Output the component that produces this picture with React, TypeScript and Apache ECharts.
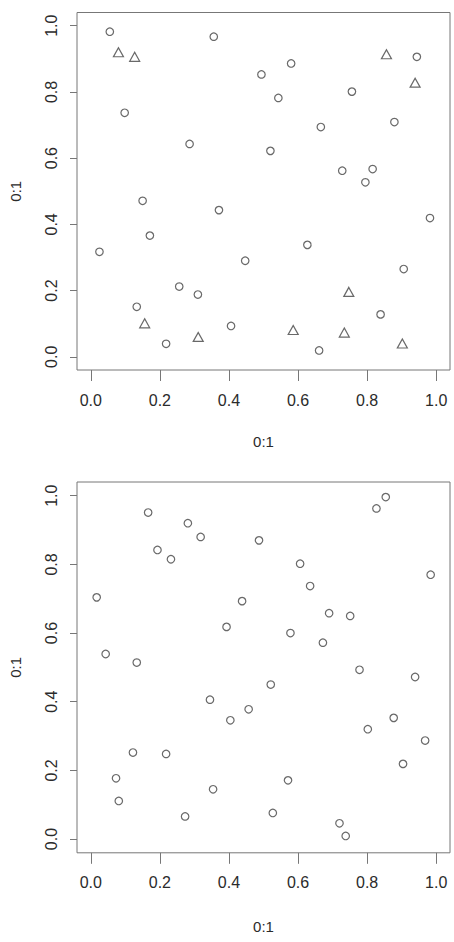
import React, { useEffect, useRef } from "react";
import * as echarts from "echarts";

const tickValues = [0, 0.2, 0.4, 0.6, 0.8, 1.0];
const axisTitle = "0:1";

// Top plot: circles
const topCircleX = [0.055, 0.356, 0.098, 0.286, 0.494, 0.543, 0.580, 0.520, 0.666, 0.756, 0.944, 0.879, 0.728, 0.816, 0.795, 0.150, 0.371, 0.982, 0.025, 0.171, 0.627, 0.447, 0.906, 0.256, 0.310, 0.133, 0.218, 0.406, 0.661, 0.839];
const topCircleY = [0.982, 0.967, 0.737, 0.643, 0.853, 0.782, 0.886, 0.622, 0.694, 0.801, 0.906, 0.709, 0.562, 0.567, 0.527, 0.471, 0.443, 0.419, 0.317, 0.366, 0.338, 0.290, 0.265, 0.212, 0.188, 0.151, 0.039, 0.093, 0.019, 0.128];
// Top plot: triangles
const topTriangleX = [0.080, 0.127, 0.856, 0.939, 0.156, 0.311, 0.586, 0.747, 0.734, 0.902];
const topTriangleY = [0.920, 0.906, 0.914, 0.828, 0.101, 0.060, 0.081, 0.196, 0.073, 0.040];
// Bottom plot: circles
const bottomCircleX = [0.017, 0.043, 0.133, 0.166, 0.193, 0.232, 0.281, 0.318, 0.393, 0.438, 0.487, 0.606, 0.635, 0.578, 0.690, 0.672, 0.751, 0.827, 0.854, 0.984, 0.778, 0.939, 0.521, 0.345, 0.457, 0.404, 0.877, 0.802, 0.968, 0.904, 0.122, 0.218, 0.073, 0.081, 0.354, 0.571, 0.273, 0.527, 0.720, 0.738];
const bottomCircleY = [0.704, 0.539, 0.514, 0.951, 0.842, 0.815, 0.920, 0.880, 0.618, 0.693, 0.870, 0.802, 0.737, 0.600, 0.658, 0.572, 0.650, 0.963, 0.996, 0.770, 0.493, 0.472, 0.450, 0.406, 0.378, 0.346, 0.353, 0.320, 0.287, 0.219, 0.252, 0.248, 0.177, 0.111, 0.145, 0.171, 0.066, 0.076, 0.046, 0.009];

const zip = (xs: number[], ys: number[]) => xs.map((x, i) => [x, ys[i]]);

const TEXT = "#2b2b2b";
const LINE = "#777777";
const MARK = "#444444";
const FONT = "Liberation Sans, Arial, sans-serif";

function makeX(gridIndex: number, gap: number) {
  return {
    type: "value",
    gridIndex,
    min: -0.04,
    max: 1.04,
    name: axisTitle,
    nameLocation: "middle",
    nameGap: gap,
    nameTextStyle: { color: TEXT, fontSize: 15, fontFamily: FONT },
    axisLine: { show: false, onZero: false },
    splitLine: { show: false },
    axisTick: { show: true, inside: false, customValues: tickValues, length: 11, lineStyle: { color: LINE, width: 1 } },
    axisLabel: {
      customValues: tickValues,
      formatter: (v: number) => v.toFixed(1),
      color: TEXT,
      fontSize: 16,
      fontFamily: FONT,
      margin: 22,
    },
  };
}

function makeY(gridIndex: number) {
  return {
    type: "value",
    gridIndex,
    min: -0.04,
    max: 1.04,
    name: axisTitle,
    nameLocation: "middle",
    nameRotate: 90,
    nameGap: 54,
    nameTextStyle: { color: TEXT, fontSize: 15, fontFamily: FONT },
    axisLine: { show: false, onZero: false },
    splitLine: { show: false },
    axisTick: { show: true, inside: false, customValues: tickValues, length: 7, lineStyle: { color: LINE, width: 1 } },
    axisLabel: {
      customValues: tickValues,
      formatter: (v: number) => v.toFixed(1),
      rotate: 90,
      color: TEXT,
      fontSize: 16,
      fontFamily: FONT,
      margin: 18,
    },
  };
}

const hollow = { color: "rgba(0,0,0,0)", borderColor: MARK, borderWidth: 1.2 };

export default function App() {
  const ref = useRef<HTMLDivElement>(null);
  useEffect(() => {
    if (!ref.current) return;
    const chart = echarts.init(ref.current, null, { renderer: "svg" });
    chart.setOption({
      animation: false,
      backgroundColor: "#ffffff",
      grid: [
        { left: 74, top: 12.5, width: 376, height: 357.5, show: true, borderColor: LINE, borderWidth: 1, backgroundColor: "rgba(0,0,0,0)" },
        { left: 74, top: 482, width: 376, height: 370.8, show: true, borderColor: LINE, borderWidth: 1, backgroundColor: "rgba(0,0,0,0)" },
      ],
      xAxis: [makeX(0, 64), makeX(1, 66)],
      yAxis: [makeY(0), makeY(1)],
      series: [
        { type: "scatter", xAxisIndex: 0, yAxisIndex: 0, symbol: "circle", symbolSize: 7.5, itemStyle: hollow, data: zip(topCircleX, topCircleY) },
        { type: "scatter", xAxisIndex: 0, yAxisIndex: 0, symbol: "triangle", symbolSize: [10, 9], itemStyle: hollow, data: zip(topTriangleX, topTriangleY) },
        { type: "scatter", xAxisIndex: 1, yAxisIndex: 1, symbol: "circle", symbolSize: 7.5, itemStyle: hollow, data: zip(bottomCircleX, bottomCircleY) },
      ],
    });
    return () => chart.dispose();
  }, []);
  return (
    <div
      ref={ref}
      style={{ position: "fixed", left: 0, top: 0, width: 454, height: 942, background: "#fff" }}
    />
  );
}
